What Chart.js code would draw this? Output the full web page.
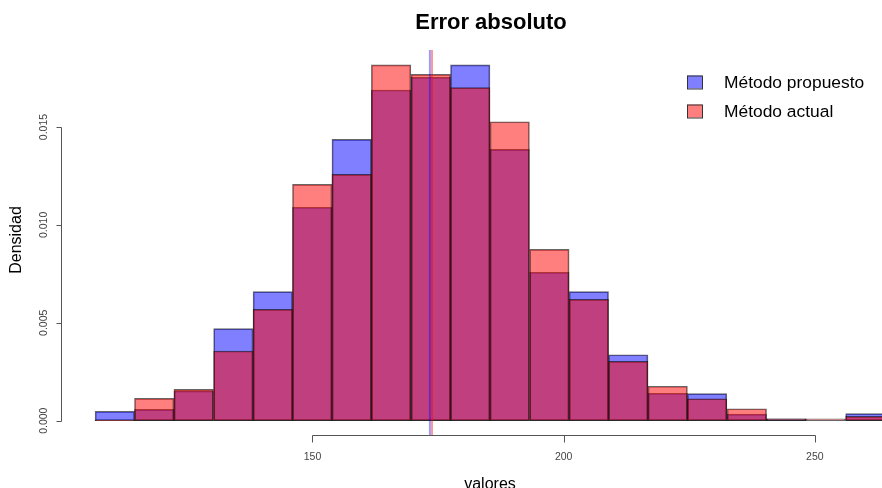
<!DOCTYPE html>
<html>
<head>
<meta charset="utf-8">
<script src="https://cdn.jsdelivr.net/npm/chart.js@4.4.1/dist/chart.umd.min.js"></script>
<style>
    html, body { margin: 0; padding: 0; background: #fff; }
    #wrap { width: 882px; height: 488px; position: relative; }
</style>
</head>
<body>
<div id="wrap"><canvas id="histChart"></canvas></div>
<script>
// bin edges (20 bins)
const breaks = [106.7, 114.6, 122.4, 130.3, 138.2, 146.0, 153.9, 161.7, 169.6, 177.5,
    185.3, 193.2, 201.1, 208.9, 216.8, 224.6, 232.5, 240.4, 248.2, 256.1, 264.0];

const propuesto = [0.00048, 0.00058, 0.00152, 0.00470, 0.00659, 0.01090, 0.01437, 0.01689, 0.01754, 0.01817,
    0.01386, 0.00758, 0.00659, 0.00337, 0.00140, 0.00138, 0.00034, 0.00010, 0.00000, 0.00036];
const actual = [0.00005, 0.00114, 0.00160, 0.00356, 0.00569, 0.01207, 0.01258, 0.01817, 0.01769, 0.01701,
    0.01527, 0.00875, 0.00620, 0.00303, 0.00176, 0.00112, 0.00061, 0.00010, 0.00010, 0.00022];

// mean lines (abline v=)
const meanPropuesto = 173.37;
const meanActual = 173.79;

const xTicks = [150, 200, 250];
const yTicks = [0, 0.005, 0.010, 0.015];
const yTickLabels = ['0.000', '0.005', '0.010', '0.015'];

const labels = ['Método propuesto', 'Método actual'];

const blueFill = 'rgba(0, 0, 255, 0.5)';
const redFill = 'rgba(255, 0, 0, 0.5)';
const FONT = "'Liberation Sans', Arial, sans-serif";

const centers = breaks.slice(0, -1).map((b, i) => (b + breaks[i + 1]) / 2);
const toPoints = vals => centers.map((c, i) => ({x: c, y: vals[i]}));

// R-style axes, title, legend and mean lines
const rDecor = {
    id: 'rDecor',
    afterDatasetsDraw(chart) {
        const ctx = chart.ctx;
        const xs = chart.scales.x;
        const area = chart.chartArea;

        // vertical mean lines
        ctx.save();
        ctx.lineWidth = 2;
        [[meanPropuesto, 'rgba(0,0,255,0.4)'], [meanActual, 'rgba(255,0,0,0.4)']].forEach(function (m) {
            const px = xs.getPixelForValue(m[0]);
            ctx.strokeStyle = m[1];
            ctx.beginPath();
            ctx.moveTo(px, area.top);
            ctx.lineTo(px, area.bottom);
            ctx.stroke();
        });
        ctx.restore();
    },
    afterDraw(chart) {
        const ctx = chart.ctx;
        const xs = chart.scales.x;
        const ys = chart.scales.y;
        const area = chart.chartArea;
        const axisColor = '#555';

        ctx.save();
        ctx.strokeStyle = axisColor;
        ctx.lineWidth = 1;

        // x axis
        const yAxis = area.bottom + 0.5;
        const x0 = Math.round(xs.getPixelForValue(xTicks[0])) + 0.5;
        const x1 = Math.round(xs.getPixelForValue(xTicks[xTicks.length - 1])) + 0.5;
        ctx.beginPath();
        ctx.moveTo(x0, yAxis);
        ctx.lineTo(x1, yAxis);
        xTicks.forEach(function (t) {
            const px = Math.round(xs.getPixelForValue(t)) + 0.5;
            ctx.moveTo(px, yAxis);
            ctx.lineTo(px, yAxis + 7);
        });
        ctx.stroke();

        ctx.fillStyle = '#444';
        ctx.font = '10.5px ' + FONT;
        ctx.textAlign = 'center';
        ctx.textBaseline = 'middle';
        xTicks.forEach(function (t) {
            ctx.fillText(String(t), xs.getPixelForValue(t), 457);
        });

        // y axis
        const xAxis = area.left - 0.5;
        ctx.beginPath();
        ctx.moveTo(xAxis, Math.round(ys.getPixelForValue(yTicks[0])) + 0.5);
        ctx.lineTo(xAxis, Math.round(ys.getPixelForValue(yTicks[yTicks.length - 1])) + 0.5);
        yTicks.forEach(function (t) {
            const py = Math.round(ys.getPixelForValue(t)) + 0.5;
            ctx.moveTo(xAxis, py);
            ctx.lineTo(xAxis - 5, py);
        });
        ctx.stroke();

        yTicks.forEach(function (t, i) {
            ctx.save();
            ctx.translate(44, ys.getPixelForValue(t));
            ctx.rotate(-Math.PI / 2);
            ctx.fillText(yTickLabels[i], 0, 0);
            ctx.restore();
        });

        // axis titles
        ctx.fillStyle = '#000';
        ctx.font = '16px ' + FONT;
        ctx.fillText('valores', 490, 485);
        ctx.save();
        ctx.translate(17, 240);
        ctx.rotate(-Math.PI / 2);
        ctx.fillText('Densidad', 0, 0);
        ctx.restore();

        // main title
        ctx.font = 'bold 22px ' + FONT;
        ctx.fillText('Error absoluto', 491, 23);

        // legend
        const fills = [blueFill, redFill];
        ctx.font = '17.4px ' + FONT;
        ctx.textAlign = 'left';
        labels.forEach(function (lab, i) {
            const cy = 82 + i * 29;
            ctx.fillStyle = fills[i];
            ctx.fillRect(687, cy - 6.5, 15, 13);
            ctx.strokeStyle = '#333';
            ctx.strokeRect(687.5, cy - 6, 15, 13);
            ctx.fillStyle = '#000';
            ctx.fillText(lab, 724, cy + 1);
        });
        ctx.restore();
    }
};

const ctx = document.getElementById('histChart').getContext('2d');
const histChart = new Chart(ctx, {
    type: 'bar',
    data: {
        datasets: [{
            label: labels[1],
            data: toPoints(actual),
            backgroundColor: redFill,
            borderColor: 'rgba(0,0,0,0.6)',
            borderWidth: 1,
            borderSkipped: false,
            grouped: false,
            barPercentage: 1,
            categoryPercentage: 1,
            order: 0
        }, {
            label: labels[0],
            data: toPoints(propuesto),
            backgroundColor: blueFill,
            borderColor: 'rgba(0,0,0,0.6)',
            borderWidth: 1,
            borderSkipped: false,
            grouped: false,
            barPercentage: 1,
            categoryPercentage: 1,
            order: 1
        }]
    },
    options: {
        responsive: true,
        maintainAspectRatio: false,
        animation: false,
        layout: {
            padding: {left: 62, top: 50, right: 0, bottom: 53}
        },
        scales: {
            x: {type: 'linear', display: false, offset: false, min: 100.14, max: 263.36},
            y: {display: false, min: -0.00073, max: 0.018933}
        },
        plugins: {
            legend: {display: false},
            title: {display: false},
            tooltip: {enabled: false}
        }
    },
    plugins: [rDecor]
});
</script>
</body>
</html>
